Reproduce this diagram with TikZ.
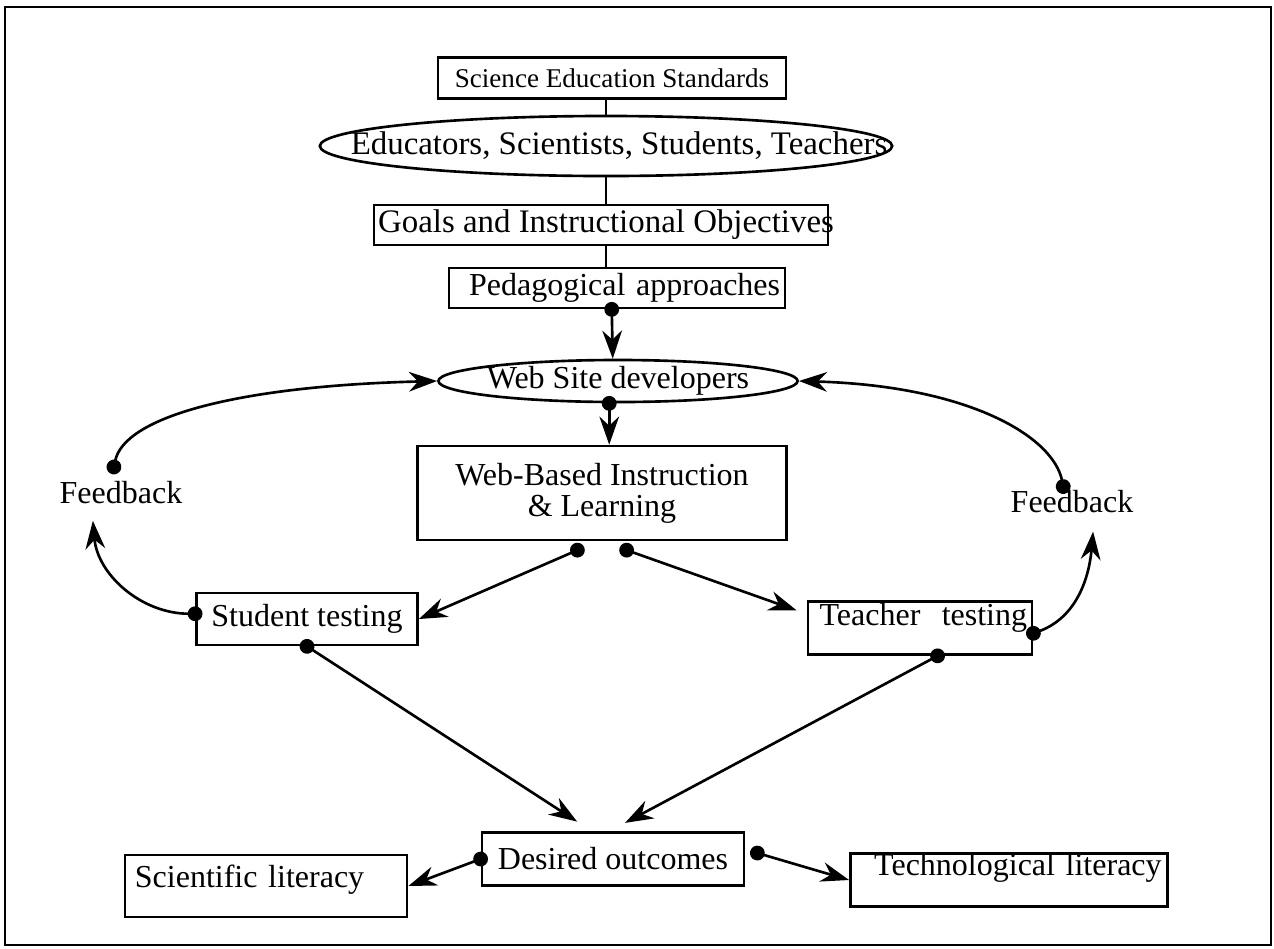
\documentclass[tikz,border=0pt]{standalone}
\usepackage{fontspec}
\setmainfont{Liberation Serif}
\usetikzlibrary{shapes.geometric, arrows.meta}

\newcommand{\boxfont}{\fontsize{9.1pt}{10pt}\selectfont}
\newcommand{\bigboxfont}{\fontsize{9.35pt}{10pt}\selectfont}
\newcommand{\smallboxfont}{\fontsize{7.7pt}{9pt}\selectfont}

\begin{document}
\begin{tikzpicture}[x=0.01cm, y=-0.01cm,
  every node/.style={font=\boxfont, inner sep=0pt},
  box/.style={draw, rectangle, line width=0.75pt},
  oval/.style={draw, ellipse, line width=0.75pt},
  plain/.style={line width=0.75pt},
  link/.style={{Circle[length=4.2pt]}-{Stealth[length=8pt, width=5.6pt]}, line width=0.75pt, shorten <=-2.1pt}]

\useasboundingbox (0,0) rectangle (1274,948);

% Outer frame
\draw[line width=0.8pt] (5,7) rectangle (1271,945);

% Upper part of the chart
\node[box, font=\smallboxfont, minimum width=3.48cm, minimum height=0.41cm] (standards) at (612,78) {Science Education Standards};
\node[oval, font=\bigboxfont, inner xsep=-1cm, minimum width=5.72cm, minimum height=0.6cm] (people) at (606,146) {\hspace{0.26cm}Educators, Scientists, Students, Teachers};
\node[box, font=\bigboxfont, inner xsep=-0.1cm, minimum width=4.54cm, minimum height=0.40cm] (goals) at (601,225) {\hspace{0.1cm}Goals and Instructional Objectives};
\node[box, text width=3.26cm, align=right, inner xsep=0.05cm, minimum height=0.40cm] (approaches) at (617,288) {Pedagogical approaches};
\node[oval, inner xsep=-0.3cm, minimum width=3.59cm, minimum height=0.42cm] (developers) at (618,381) {Web Site developers};
\node[box, align=center, minimum width=3.69cm, minimum height=0.94cm] (webbased) at (602,493) {Web-Based Instruction\\[-1.2pt] \& Learning};

% Testing and feedback
\node[box, minimum width=2.21cm, minimum height=0.52cm] (student) at (307,619) {Student testing};
\node[box, text width=2.14cm, align=right, inner xsep=0.05cm, minimum height=0.53cm, text depth=7.7pt] (teacher) at (920,628) {Teacher\ \ testing};
\node (feedbackL) at (121,493) {Feedback};
\node (feedbackR) at (1072,502) {Feedback};

% Outcomes
\node[box, minimum width=2.62cm, minimum height=0.53cm] (outcomes) at (613,859) {Desired outcomes};
\node[box, text width=2.62cm, align=left, inner xsep=0.1cm, minimum height=0.62cm, text depth=5.4pt] (scientific) at (266,886) {Scientific literacy};
\node[box, text width=3.05cm, align=right, inner xsep=0.06cm, minimum height=0.52cm, text depth=8.8pt] (technological) at (1009,880) {Technological literacy};

% Plain links of the upper stack
\draw[plain] (people.north |- standards.south) -- (people.north);
\draw[plain] (people.south) -- (people.south |- goals.north);
\draw[plain] (people.south |- goals.south) -- (people.south |- approaches.north);

% Links with dot and arrow
\draw[link] ([xshift=-1.5pt]approaches.south) -- ([xshift=-1.5pt]developers.north);
\draw[link] ([xshift=-2.5pt]developers.south) -- ([xshift=-2.5pt]developers.south |- webbased.north);
\draw[link] ([xshift=-7pt, yshift=-2.5pt]webbased.south) -- (student.east);
\draw[link, shorten >=3pt] ([xshift=7pt, yshift=-2.5pt]webbased.south) -- ([yshift=4pt]teacher.west);
\draw[link, shorten >=5pt] (student.south) -- ([xshift=-6pt]outcomes.north);
\draw[link, shorten >=5pt] ([xshift=5pt]teacher.south) -- ([xshift=-1pt]outcomes.north);
\draw[link] (outcomes.west) -- (scientific.east);
\draw[link] ([xshift=3.4pt, yshift=1.7pt]outcomes.east) -- (technological.west);

% Feedback loops
\draw[link] ([xshift=-2pt, yshift=4pt]feedbackL.north) .. controls +(10,-50) and +(-200,5) .. (developers.west);
\draw[link] ([xshift=-2.5pt, yshift=1pt]feedbackR.north) .. controls +(-10,-50) and +(170,5) .. (developers.east);
\draw[link] ([yshift=1.5pt]student.west) to[out=180, in=-85] ([xshift=-8pt, yshift=-4.5pt]feedbackL.south);
\draw[link] ([yshift=-1.5pt]teacher.east) to[out=20, in=-95] ([xshift=6pt, yshift=-5pt]feedbackR.south);

\end{tikzpicture}
\end{document}
